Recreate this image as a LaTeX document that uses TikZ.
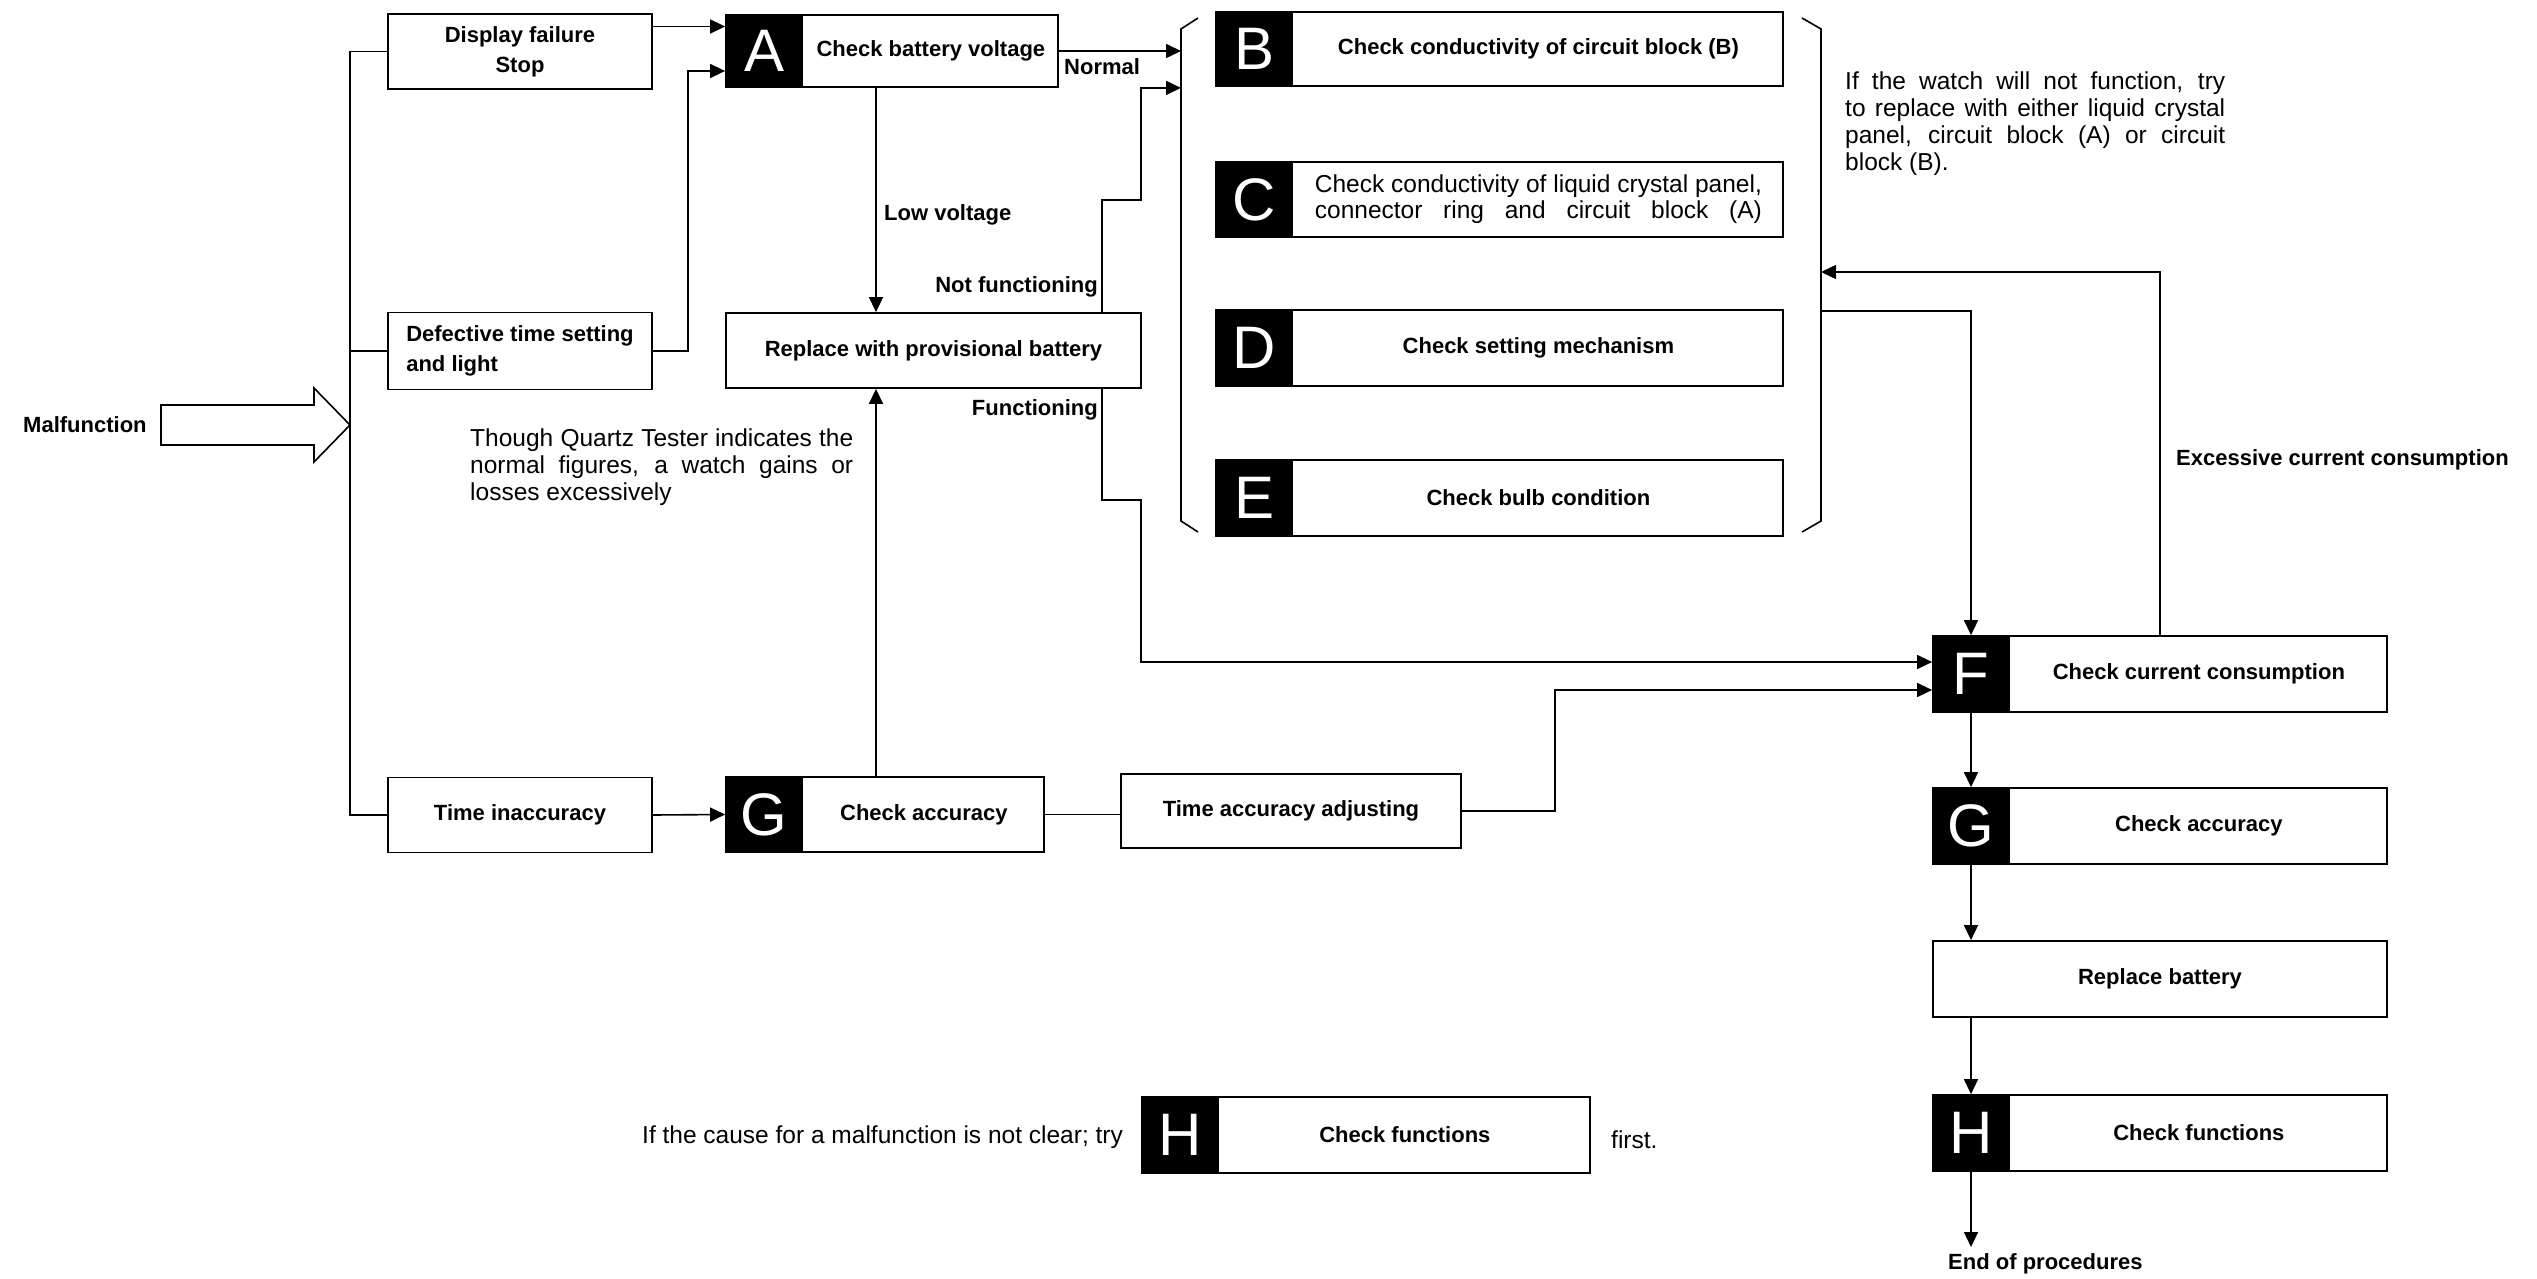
\documentclass[tikz,border=0pt]{standalone}
\usepackage{fontspec}
\setmainfont{Liberation Sans}
\usetikzlibrary{arrows.meta,calc,positioning}

\begin{document}
\begin{tikzpicture}[x=1pt, y=-1pt,
    box/.style={draw, line width=1.8pt, inner sep=0pt},
    tagsq/.style={draw, fill=black, line width=1.8pt, text=white, inner sep=0pt,
      minimum width=76pt, anchor=west, font=\fontsize{60}{60}\selectfont},
    lbl/.style={font=\fontsize{22}{30}\selectfont\bfseries, inner sep=0pt},
    note/.style={font=\fontsize{24.5}{27}\selectfont, inner sep=0pt, align=left},
    wire/.style={line width=1.6pt},
    arr/.style={wire, -{Triangle[length=15pt, width=14pt]}}]
    \useasboundingbox (0,0) rectangle (2537,1279);
    % coloane ajutatoare (x in px)
    \coordinate (xlv) at (876,0);
    \coordinate (xfn) at (1102,0);
    \coordinate (braceL) at (1181,275);
    \coordinate (braceR) at (1821,272);
    \coordinate (braceRlow) at (1821,311);
    \coordinate (endtip) at (1971,1247);
    % Intrare: Malfunction
    \node[lbl, anchor=west] (malf) at (23,425) {Malfunction};
    \coordinate (mftip) at (350,425);
    \draw[wire] (161,405) -- (314,405) -- (314,388) -- (mftip)
      -- (314,462) -- (314,445) -- (161,445) -- cycle;
    % Simptome (stanga)
    \node[box, lbl, minimum width=264pt, minimum height=75pt, align=center]
      (DF) at (520,51.5) {Display failure\\Stop};
    \node[box, lbl, minimum width=264pt, minimum height=77pt, align=left]
      (DT) at (520,351) {Defective time setting\\and light};
    \node[box, lbl, minimum width=264pt, minimum height=75pt]
      (TI) at (520,815) {Time inaccuracy};
    % A
    \node[box, minimum width=332pt, minimum height=72pt] (A) at (892,51) {};
    \node[tagsq, minimum height=72pt] (Atag) at (A.west) {A};
    \node[lbl] (Atxt) at ($(Atag.east)!0.5!(A.east)$) {Check battery voltage};
    % Baterie provizorie
    \node[box, lbl, minimum width=415pt, minimum height=75pt]
      (RP) at (933.5,350.5) {Replace with provisional battery};
    % G (stanga)
    \node[box, minimum width=318pt, minimum height=75pt] (G1) at (885,814.5) {};
    \node[tagsq, minimum height=75pt] (G1tag) at (G1.west) {G};
    \node[lbl] (G1txt) at ($(G1tag.east)!0.5!(G1.east)$) {Check accuracy};
    \node[box, lbl, minimum width=340pt, minimum height=74pt]
      (TA) at (1291,811) {Time accuracy adjusting};
    % Grupul B -- E
    \node[box, minimum width=567pt, minimum height=74pt] (B) at (1499.5,49) {};
    \node[tagsq, minimum height=74pt] (Btag) at (B.west) {B};
    \node[lbl] (Btxt) at ($(Btag.east)!0.5!(B.east)$) {Check conductivity of circuit block (B)};
    \node[box, minimum width=567pt, minimum height=75pt] (C) at (1499.5,199.5) {};
    \node[tagsq, minimum height=75pt] (Ctag) at (C.west) {C};
    \node[note, font=\fontsize{24.5}{26}\selectfont, align=center] (Ctxt)
      at ($(Ctag.east)!0.5!(C.east)$)
      {\makebox[447pt][s]{Check conductivity of liquid crystal panel,}\\
       \makebox[447pt][s]{connector ring and circuit block (A)}};
    \node[box, minimum width=567pt, minimum height=76pt] (D) at (1499.5,348) {};
    \node[tagsq, minimum height=76pt] (Dtag) at (D.west) {D};
    \node[lbl] (Dtxt) at ($(Dtag.east)!0.5!(D.east)$) {Check setting mechanism};
    \node[box, minimum width=567pt, minimum height=76pt] (E) at (1499.5,498) {};
    \node[tagsq, minimum height=76pt] (Etag) at (E.west) {E};
    \node[lbl] (Etxt) at ($(Etag.east)!0.5!(E.east)$) {Check bulb condition};
    % Acolade
    \draw[wire] (1198,18) -- (1181,29) -- (1181,521) -- (1198,532);
    \draw[wire] (1802,18) -- (1821,29) -- (1821,521) -- (1802,532);
    \node[note, anchor=north west] (hint) at (1845,72)
      {\makebox[380pt][s]{If the watch will not function, try}\\
       \makebox[380pt][s]{to replace with either liquid crystal}\\
       \makebox[380pt][s]{panel, circuit block (A) or circuit}\\
       block (B).};
    % Coloana dreapta F -- H
    \node[box, minimum width=454pt, minimum height=76pt] (F) at (2160,674) {};
    \node[tagsq, minimum height=76pt] (Ftag) at (F.west) {F};
    \node[lbl] (Ftxt) at ($(Ftag.east)!0.5!(F.east)$) {Check current consumption};
    \node[box, minimum width=454pt, minimum height=76pt] (G2) at (2160,826) {};
    \node[tagsq, minimum height=76pt] (G2tag) at (G2.west) {G};
    \node[lbl] (G2txt) at ($(G2tag.east)!0.5!(G2.east)$) {Check accuracy};
    \node[box, lbl, minimum width=454pt, minimum height=76pt]
      (RB) at (2160,979) {Replace battery};
    \node[box, minimum width=454pt, minimum height=76pt] (H2) at (2160,1133) {};
    \node[tagsq, minimum height=76pt] (H2tag) at (H2.west) {H};
    \node[lbl] (H2txt) at ($(H2tag.east)!0.5!(H2.east)$) {Check functions};
    \node[lbl, anchor=west] (endp) at (1948,1264) {End of procedures};
    % Nota de jos
    \node[note, anchor=west] (cause) at (642,1137)
      {If the cause for a malfunction is not clear; try};
    \node[box, minimum width=448pt, minimum height=76pt] (H1) at (1366,1135) {};
    \node[tagsq, minimum height=76pt] (H1tag) at (H1.west) {H};
    \node[lbl] (H1txt) at ($(H1tag.east)!0.5!(H1.east)$) {Check functions};
    \node[note, anchor=west] (first) at (1611,1140) {first.};
    \node[note, anchor=north west] (quartz) at (470,429)
      {\makebox[383pt][s]{Though Quartz Tester indicates the}\\
       \makebox[383pt][s]{normal figures, a watch gains or}\\
       losses excessively};
    % Legaturi -- trunchi
    \draw[wire] (DF.west) -| (mftip) |- (TI.west);
    \draw[wire] (DT.west) -- (DT.west -| mftip);
    % Legaturi -- spre A
    \draw[arr] ([yshift=25pt]DF.east) -- ([yshift=25pt]DF.east -| Atag.west);
    \draw[arr] (DT.east) -- ++(35,0) |- ([yshift=-20pt]Atag.west);
    \draw[arr] (A.east) -- (A.east -| braceL);
    \node[lbl, anchor=west] (normal) at (1064,67) {Normal};
    \draw[arr] (A.south -| xlv) -- (RP.north -| xlv);
    \node[lbl, anchor=west] (lowv) at (884,215) {Low voltage};
    \draw[arr] (RP.north -| xfn) |- (1141,200) |- (A.south -| braceL);
    \node[lbl, anchor=east] (notf) at (1098,287) {Not functioning};
    \draw[arr] (RP.south -| xfn) |- (1141,500) |- ([yshift=12pt]Ftag.west);
    \node[lbl, anchor=east] (func) at (1098,410) {Functioning};
    % Legaturi -- ramura G
    \draw[arr] (TI.east) -- (G1.west);
    \draw[arr] (G1.north -| xlv) -- (RP.south -| xlv);
    \draw[wire] (G1.east) -- (G1.east -| TA.west);
    \draw[arr] (TA.east) -- ++(93,0) |- ([yshift=-16pt]Ftag.west);
    % Legaturi -- dreapta
    \draw[arr] (braceRlow) -| (Ftag.north);
    \draw[arr] (F.north) |- (braceR);
    \node[lbl, anchor=west] (exc) at (2176,460) {Excessive current consumption};
    \draw[arr] (Ftag.south) -- (G2tag.north);
    \draw[arr] (G2tag.south) -- (G2tag.south |- RB.north);
    \draw[arr] (G2tag.south |- RB.south) -- (H2tag.north);
    \draw[arr] (H2tag.south) -- (endtip);
\end{tikzpicture}
\end{document}
